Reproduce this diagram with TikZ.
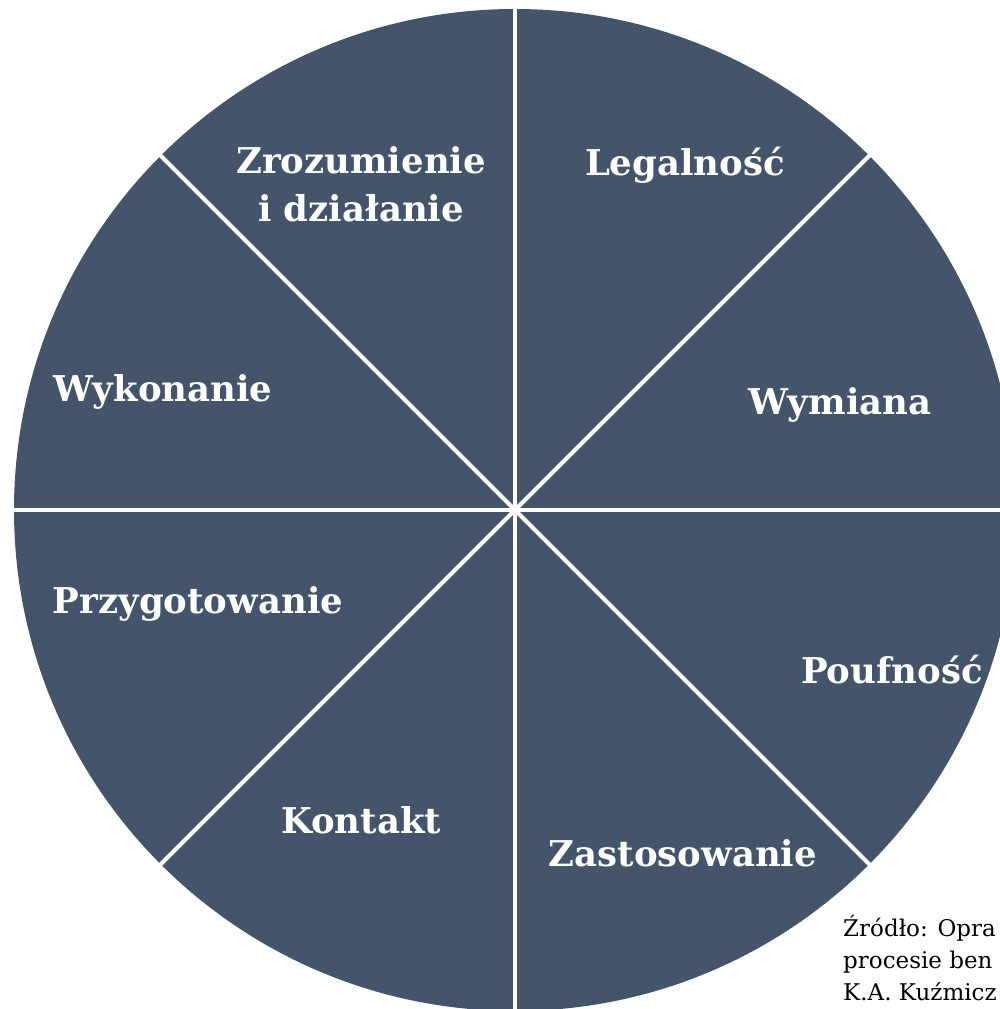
\documentclass[tikz,border=0pt]{standalone}
\usepackage{fontspec}
\setmainfont{DejaVu Serif}
\definecolor{wheel}{HTML}{44546A}
\begin{document}
\begin{tikzpicture}[x=1pt,y=-1pt,
  seglabel/.style={text=white,font=\bfseries\fontsize{35.5}{48}\selectfont,align=center,inner sep=0pt},
  spoke/.style={draw=white,line width=4pt},
  source/.style={font=\fontsize{23}{32}\selectfont,align=left,anchor=base west,inner sep=0pt}]
\useasboundingbox (0,0) rectangle (1000,1009);
\begin{scope}
\clip (0,0) rectangle (1000,1009);
\fill[wheel] (515,510) circle[radius=501];
\coordinate (c) at (515,510);
\foreach \a in {0,45,...,315}{
  \draw[spoke] (c) -- ++(\a:503);
}
\node[seglabel] (zro) at (361,184) {Zrozumienie\\i działanie};
\node[seglabel] (leg) at (685,165) {Legalność};
\node[seglabel] (wym) at (840,405) {Wymiana};
\node[seglabel] (wyk) at (163,392) {Wykonanie};
\node[seglabel] (prz) at (198,604) {Przygotowanie};
\node[seglabel] (pou) at (892,670) {Poufność};
\node[seglabel] (kon) at (361,820) {Kontakt};
\node[seglabel] (zas) at (683,853) {Zastosowanie};
\node[source] (src) at (843,1000) {Źródło: Opra\\procesie ben\\K.A. Kuźmicz};
\end{scope}
\end{tikzpicture}
\end{document}
